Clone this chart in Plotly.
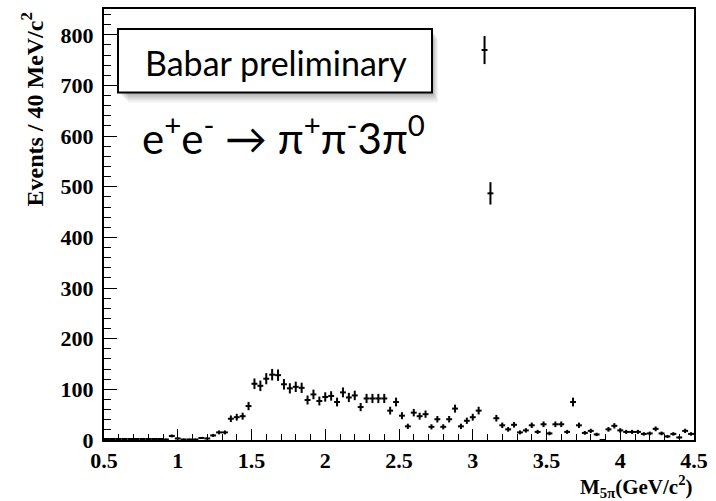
import numpy as np
import plotly.graph_objects as go

# 5-pion invariant mass spectrum, 40 MeV bins from 0.5 to 4.5 GeV/c^2
bin_lo = 0.5
bin_width = 0.04
events = [
    2, 2, 2, 2, 2, 2, 2, 2, 2, 2,
    1, 8, 3, 1, 1, 1, 4, 3, 9, 15,
    15, 42, 45, 47, 67, 111, 107, 121, 129, 128,
    110, 102, 105, 103, 79, 90, 77, 85, 87, 75,
    94, 84, 88, 65, 82, 82, 82, 82, 58, 75,
    48, 27, 54, 47, 51, 26, 41, 26, 41, 62,
    27, 38, 45, 58, 770, 487, 43, 29, 21, 30,
    15, 19, 29, 16, 31, 13, 31, 31, 16, 75,
    29, 14, 18, 11, 0, 21, 28, 19, 16, 16,
    16, 12, 13, 22, 13, 7, 12, 5, 18, 12,
]

x_tick_vals = [0.5, 1.0, 1.5, 2.0, 2.5, 3.0, 3.5, 4.0, 4.5]
x_tick_text = ["0.5", "1", "1.5", "2", "2.5", "3", "3.5", "4", "4.5"]
y_tick_vals = [0, 100, 200, 300, 400, 500, 600, 700, 800]

centers = bin_lo + bin_width * (np.arange(len(events)) + 0.5)
counts = np.array(events, dtype=float)
errors = np.sqrt(counts)

W, H = 716, 501
L, R, T, B = 104, 22, 7, 61
pw, ph = W - L - R, H - T - B


def px(xp):
    return (xp - L) / pw


def py(yp):
    return (H - B - yp) / ph


serif = "Liberation Serif, Times New Roman, serif"
sans = "Lato, Open Sans, Noto Sans, sans-serif"

fig = go.Figure()
fig.add_trace(go.Scatter(
    x=centers, y=counts, mode="markers",
    marker=dict(size=2, color="black"),
    error_y=dict(type="data", array=errors, color="black", thickness=2, width=0),
    error_x=dict(type="constant", value=bin_width / 2, color="black", thickness=2, width=0),
    showlegend=False, cliponaxis=False,
))

shapes = []
# soft drop shadow behind the label box
for i, a in enumerate([0.09, 0.08, 0.07, 0.06, 0.05]):
    o = 2 + 2 * i
    shapes.append(dict(type="rect", xref="paper", yref="paper",
                       x0=px(118 + o), x1=px(432 + o * 0.6), y0=py(91 + o), y1=py(27 + o),
                       fillcolor=f"rgba(0,0,0,{a})", line=dict(width=0), layer="above"))
shapes.append(dict(type="rect", xref="paper", yref="paper",
                   x0=px(118), x1=px(432), y0=py(91), y1=py(27),
                   fillcolor="white", line=dict(color="black", width=2), layer="above"))

annotations = [
    dict(text="Babar preliminary", xref="paper", yref="paper",
         x=px(276), y=py(61), xanchor="center", yanchor="middle", showarrow=False,
         font=dict(family=sans, size=34, color="black")),
    dict(text="e<sup>+</sup>e<sup>-</sup> \u2192 \u03c0<sup>+</sup>\u03c0<sup>-</sup>3\u03c0<sup>0</sup>",
         xref="paper", yref="paper",
         x=px(140), y=py(134), xanchor="left", yanchor="middle", showarrow=False,
         font=dict(family=sans, size=42, color="black")),
    dict(text="Events / 40 MeV/c<sup>2</sup>", xref="paper", yref="paper",
         x=px(32), y=py(108), xanchor="center", yanchor="middle", showarrow=False,
         textangle=-90, font=dict(family=serif, size=24, color="black", weight="bold")),
    dict(text="M<sub>5\u03c0</sub>(GeV/c<sup>2</sup>)", xref="paper", yref="paper",
         x=px(695), y=py(487), xanchor="right", yanchor="middle", showarrow=False,
         font=dict(family=serif, size=21, color="black", weight="bold")),
]

fig.update_layout(
    width=W, height=H,
    margin=dict(l=L, r=R, t=T, b=B, pad=0),
    paper_bgcolor="white", plot_bgcolor="white",
    shapes=shapes, annotations=annotations,
    xaxis=dict(range=[0.5, 4.5], tickvals=x_tick_vals, ticktext=x_tick_text,
               ticks="inside", ticklen=11, tickwidth=1, tickcolor="black",
               minor=dict(dtick=0.1, ticks="inside", ticklen=6, tickwidth=1, tickcolor="black"),
               showline=True, linecolor="black", linewidth=2, mirror=True,
               showgrid=False, zeroline=False,
               tickfont=dict(family=serif, size=22, color="black", weight="bold")),
    yaxis=dict(range=[0, 851], tickvals=y_tick_vals,
               ticks="inside", ticklen=13, tickwidth=1, tickcolor="black",
               minor=dict(dtick=20, ticks="inside", ticklen=7, tickwidth=1, tickcolor="black"),
               showline=True, linecolor="black", linewidth=2, mirror=True,
               showgrid=False, zeroline=False, ticklabelstandoff=4,
               tickfont=dict(family=serif, size=22, color="black", weight="bold")),
)

fig.write_html("out.html")
